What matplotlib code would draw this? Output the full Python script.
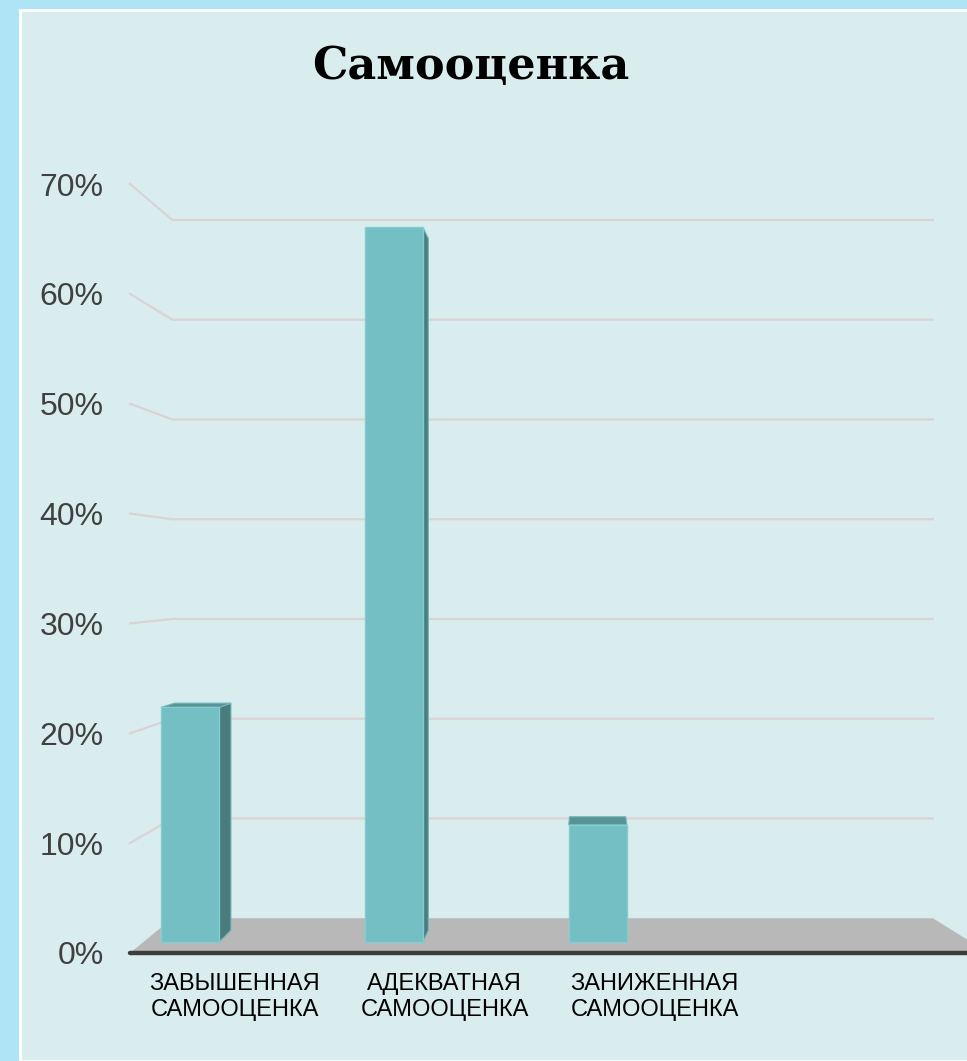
import matplotlib
matplotlib.use("Agg")
import matplotlib.pyplot as plt
from matplotlib.patches import Polygon, Rectangle

# data
categories = ["ЗАВЫШЕННАЯ\nСАМООЦЕНКА", "АДЕКВАТНАЯ\nСАМООЦЕНКА", "ЗАНИЖЕННАЯ\nСАМООЦЕНКА"]
values = [22, 67, 11]
yticks = [0, 10, 20, 30, 40, 50, 60, 70]
ytick_labels = [f"{v}%" for v in yticks]
title = "Самооценка"

# perspective settings (data units of the front plane)
VX, VY = 1.962, 34.4        # vanishing point
K_FRONT, K_BAR, K_BAR_BACK, K_BACK = 1.0, 0.971, 0.94, 0.908
BAR_W = 0.285
XL, XR = -0.229, 3.76

FRONT_C = "#73bfc4"
SIDE_C = "#4a7c7e"
TOP_C = "#5a9396"
GRID_C = "#d9d3d3"


def proj(x, y, k):
    return VX + k * (x - VX), VY + k * (y - VY)


fig = plt.figure(figsize=(9.67, 10.61), dpi=100)
fig.patch.set_facecolor("#aee4f5")
panel = Rectangle((20 / 967, 0), 1, 1 - 10 / 1061, transform=fig.transFigure,
                  facecolor="#daedee", edgecolor="white", lw=2, zorder=-10)
fig.add_artist(panel)

ax = fig.add_axes([130 / 967, (1061 - 953) / 1061, (967 - 130) / 967, (953 - 184) / 1061])
ax.set_zorder(5)
ax.set_xlim(XL, 3.757)
ax.set_ylim(0, 70)
ax.patch.set_alpha(0)
for s in ax.spines.values():
    s.set_visible(False)
ax.set_xticks([])
ax.set_yticks(yticks)
ax.set_yticklabels(ytick_labels, fontsize=23, color="#404040", family="Liberation Sans")
ax.tick_params(axis="y", length=0, pad=19)

# gridlines on back wall and side wall
for v in yticks[1:]:
    a = proj(XL, v, K_FRONT)
    b = proj(XL, v, K_BACK)
    c = proj(XR, v, K_BACK)
    ax.plot([a[0], b[0], c[0]], [a[1], b[1], c[1]], color=GRID_C, lw=1.6,
            clip_on=False, zorder=1)

# floor
floor = [proj(XL, 0, K_FRONT), proj(XR + 0.1, 0, K_FRONT), proj(XR, 0, K_BACK), proj(XL, 0, K_BACK)]
ax.add_patch(Polygon(floor, closed=True, facecolor="#b8b8b8", edgecolor="none",
                     clip_on=False, zorder=2))
ax.plot([XL, XR + 0.1], [0, 0], color="#3d3d3d", lw=3.2, solid_capstyle="round",
        clip_on=False, zorder=3)

# bars
for i, v in enumerate(values):
    x0, x1 = i - BAR_W / 2, i + BAR_W / 2
    if x1 < VX:
        side = [proj(x1, 0, K_BAR), proj(x1, v, K_BAR), proj(x1, v, K_BAR_BACK), proj(x1, 0, K_BAR_BACK)]
        ax.add_patch(Polygon(side, facecolor=SIDE_C, edgecolor="#6fb7bb", lw=0.8,
                             clip_on=False, zorder=4))
    elif x0 > VX:
        side = [proj(x0, 0, K_BAR), proj(x0, v, K_BAR), proj(x0, v, K_BAR_BACK), proj(x0, 0, K_BAR_BACK)]
        ax.add_patch(Polygon(side, facecolor=SIDE_C, edgecolor="#6fb7bb", lw=0.8,
                             clip_on=False, zorder=4))
    if v < VY:
        top = [proj(x0, v, K_BAR), proj(x1, v, K_BAR), proj(x1, v, K_BAR_BACK), proj(x0, v, K_BAR_BACK)]
        ax.add_patch(Polygon(top, facecolor=TOP_C, edgecolor="#6fb7bb", lw=0.8,
                             clip_on=False, zorder=4))
    bx, by0 = proj(i, 0, K_BAR)
    _, by1 = proj(i, v, K_BAR)
    ax.bar(bx, by1 - by0, width=BAR_W * K_BAR, bottom=by0, color=FRONT_C,
           edgecolor="#80cdd2", lw=1, zorder=5, clip_on=False)

# category labels
for i, lab in enumerate(categories):
    ax.annotate(lab, xy=(i + 0.27, 0), xytext=(0, -14.5), textcoords="offset points",
                ha="center", va="top", fontsize=17, family="Liberation Sans",
                color="black", linespacing=1.24, annotation_clip=False)

fig.text(471 / 967, 1 - 79 / 1061, title, ha="center", va="baseline",
         fontsize=32, fontweight="bold", family="DejaVu Serif", color="black")

fig.savefig("out.png", dpi=100, facecolor=fig.get_facecolor())
